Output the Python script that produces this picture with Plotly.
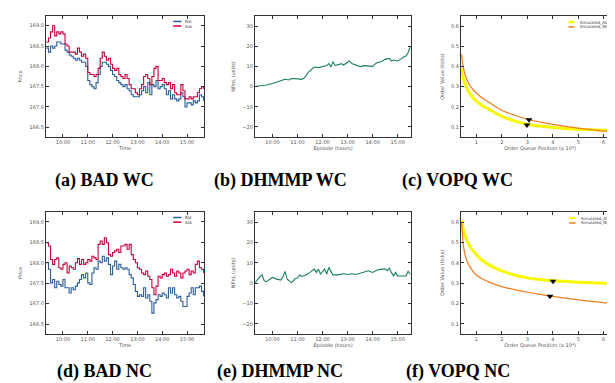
import plotly.graph_objects as go
import pandas as pd

# ---------------- data ----------------
BAD_TIMES = pd.date_range("2017-01-02 09:20", "2017-01-02 15:40", freq="5min")

WC_ASK = [168.6, 168.7, 168.85, 169.0, 168.75, 168.85, 168.8, 168.85, 168.8, 168.55,
          168.5, 168.35, 168.35, 168.35, 168.3, 168.45, 168.35, 168.25, 168.3, 168.2,
          167.85, 167.8, 167.8, 167.75, 167.8, 167.95, 168.2, 168.35, 168.25, 168.15,
          168.2, 168.05, 167.95, 167.9, 167.95, 167.8, 167.75, 167.7, 167.8, 167.7,
          167.55, 167.45, 167.45, 167.35, 167.3, 167.45, 167.55, 167.75, 167.8, 167.7,
          167.55, 167.75, 167.95, 168.0, 167.65, 167.65, 167.7, 167.6, 167.55, 167.6,
          167.45, 167.55, 167.35, 167.3, 167.3, 167.55, 167.4, 167.2, 167.2, 167.25,
          167.2, 167.25, 167.25, 167.35, 167.45, 167.5, 167.45]
WC_BID = [168.45, 168.35, 168.5, 168.45, 168.5, 168.6, 168.6, 168.55, 168.55, 168.4,
          168.35, 168.28, 168.25, 168.2, 168.15, 168.2, 168.15, 168.1, 168.1, 168.0,
          167.65, 167.55, 167.5, 167.45, 167.6, 167.8, 168.0, 168.1, 168.1, 168.05,
          168.0, 167.9, 167.8, 167.75, 167.65, 167.6, 167.55, 167.5, 167.55, 167.45,
          167.4, 167.3, 167.25, 167.25, 167.25, 167.3, 167.4, 167.5, 167.35, 167.6,
          167.3, 167.55, 167.5, 167.65, 167.45, 167.5, 167.55, 167.45, 167.3, 167.4,
          167.2, 167.3, 167.2, 167.15, 167.2, 167.35, 167.25, 167.0, 167.1, 167.1,
          167.05, 167.15, 167.1, 167.15, 167.3, 167.25, 167.15]
NC_ASK = [168.49, 168.41, 168.08, 167.96, 168.08, 168.12, 167.88, 167.84, 167.96, 168.0,
          167.75, 167.92, 167.88, 167.84, 168.0, 168.1, 167.96, 168.08, 167.96, 168.0,
          168.08, 168.04, 168.16, 168.12, 168.08, 168.45, 168.53, 168.45, 168.61, 168.49,
          168.2, 168.16, 168.25, 168.29, 168.33, 168.25, 168.41, 168.41, 168.45, 168.33,
          168.45, 168.2, 168.08, 168.0, 167.88, 167.84, 167.75, 167.71, 167.8, 167.67,
          167.59, 167.39, 167.22, 167.43, 167.67, 167.63, 167.71, 167.75, 167.67, 167.71,
          167.84, 167.75, 167.67, 167.8, 167.75, 167.63, 167.75, 167.8, 167.84, 167.71,
          167.8, 167.75, 167.96, 168.04, 167.88, 167.84, 167.75]
NC_BID = [168.0, 167.84, 167.51, 167.59, 167.39, 167.55, 167.47, 167.43, 167.59, 167.39,
          167.39, 167.26, 167.39, 167.34, 167.43, 167.51, 167.59, 167.71, 167.63, 167.75,
          167.51, 167.47, 167.75, 167.88, 167.84, 168.04, 168.0, 168.16, 168.04, 168.12,
          167.96, 167.71, 167.92, 168.04, 167.84, 167.96, 167.88, 167.84, 167.88, 167.84,
          167.71, 167.63, 167.47, 167.3, 167.18, 167.22, 167.18, 167.39, 167.14, 167.22,
          167.06, 166.77, 167.02, 167.1, 167.22, 167.18, 167.26, 167.22, 167.14, 167.39,
          167.26, 167.39, 167.22, 167.14, 167.18, 167.06, 166.93, 166.93, 167.18, 167.26,
          167.39, 167.22, 167.39, 167.39, 167.43, 167.3, 167.18]

NPNL_WC_TIMES = ["09:18", "09:30", "09:45", "10:00", "10:15", "10:30", "10:40", "10:45", "11:00",
                 "11:10", "11:15", "11:20", "11:25", "11:30", "11:35", "11:40", "11:50", "12:00",
                 "12:10", "12:15", "12:20", "12:25", "12:30", "12:40", "12:45", "12:50", "13:00",
                 "13:05", "13:10", "13:20", "13:30", "13:40", "13:50", "14:00", "14:05", "14:10",
                 "14:20", "14:30", "14:40", "14:45", "14:50", "15:00", "15:10", "15:15", "15:20",
                 "15:25", "15:30"]
NPNL_WC = [0, 0.3, 0.8, 1.5, 2.5, 3.6, 3.3, 4.0, 3.8, 3.6, 4.1, 5.2, 6.9, 7.7, 8.5, 9.7, 9.4,
           10.0, 10.4, 11.4, 9.7, 12.3, 10.5, 11.0, 11.4, 10.7, 11.8, 12.7, 11.4, 10.7, 9.9,
           10.4, 10.2, 10.0, 11.0, 11.8, 12.3, 13.5, 14.0, 12.7, 13.2, 12.7, 14.0, 14.8, 15.1,
           16.8, 19.6]
NPNL_NC_TIMES = ["09:18", "09:25", "09:30", "09:35", "09:40", "09:45", "09:55", "10:00", "10:10",
                 "10:20", "10:25", "10:30", "10:35", "10:45", "10:50", "10:55", "11:00", "11:05",
                 "11:10", "11:20", "11:30", "11:40", "11:45", "11:50", "11:55", "12:00", "12:05",
                 "12:10", "12:15", "12:20", "12:25", "12:35", "12:50", "13:00", "13:10", "13:20",
                 "13:30", "13:40", "13:50", "14:00", "14:10", "14:20", "14:30", "14:35", "14:40",
                 "14:45", "14:50", "14:55", "15:00", "15:10", "15:20", "15:25", "15:30"]
NPNL_NC = [0.3, 2.3, 3.1, 4.1, 1.2, 0.7, 2.0, 2.8, 2.0, 1.5, 3.1, 5.8, 2.0, 0.3, 1.2, 2.3, 2.5,
           4.0, 3.3, 4.0, 5.3, 6.9, 5.3, 6.9, 4.5, 5.8, 6.9, 4.5, 7.8, 5.8, 4.1, 4.1, 4.6, 4.3,
           4.6, 4.3, 4.8, 5.3, 6.1, 5.3, 6.4, 6.9, 6.9, 6.1, 7.4, 5.3, 3.6, 5.3, 3.6, 3.5, 3.6,
           5.8, 4.5]

QUEUE_POS = [0.42, 0.5, 0.6, 0.75, 1.0, 1.25, 1.5, 2.0, 2.5, 3.0, 3.5, 4.0, 5.0, 6.0, 6.6]
WC_SIM_AV = [0.39, 0.34, 0.30, 0.265, 0.228, 0.205, 0.187, 0.152, 0.13, 0.113, 0.104, 0.097,
             0.088, 0.084, 0.082]
WC_SIM_WC = [0.46, 0.39, 0.345, 0.305, 0.268, 0.242, 0.222, 0.183, 0.158, 0.138, 0.125, 0.113,
             0.094, 0.08, 0.072]
NC_SIM_AV = [0.61, 0.56, 0.52, 0.48, 0.44, 0.41, 0.39, 0.36, 0.34, 0.326, 0.318, 0.312, 0.305,
             0.30, 0.297]
NC_SIM_NC = [0.60, 0.48, 0.42, 0.38, 0.34, 0.32, 0.305, 0.283, 0.268, 0.256, 0.245, 0.235,
             0.218, 0.204, 0.196]
WC_MARK_X = [2.99, 3.07]
WC_MARK_Y = [0.11, 0.135]
NC_MARK_X = [4.01, 3.89]
NC_MARK_Y = [0.31, 0.236]

DAY = "2017-01-02 "
def tt(lst):
    return [pd.Timestamp(DAY + s) for s in lst]

# ---------------- styling ----------------
BLUE = "#2b5d9b"
RED = "#c8003c"
GREEN = "#1a7f5e"
YELLOW = "#f8f800"
ORANGE = "#f07d1e"
TICKF = dict(family="DejaVu Sans", size=5, color="#555")
TITLEF = dict(family="DejaVu Sans", size=5, color="#555")

fig = go.Figure()

XD = [(38/615, 196/615), (247/615, 403/615), (453/615, 611/615)]
YD = [(1-129/383, 1-8/383), (1-326/383, 1-204/383)]

def axis_common():
    return dict(showline=True, mirror="ticks", linecolor="#333", linewidth=1.3,
                ticks="inside", ticklen=3, tickcolor="#333", tickwidth=0.8,
                showgrid=False, zeroline=False, tickfont=TICKF)

panels = []
idx = 0
for r in range(2):
    for c in range(3):
        idx += 1
        sfx = "" if idx == 1 else str(idx)
        panels.append(("x" + sfx, "y" + sfx, "xaxis" + sfx, "yaxis" + sfx, XD[c], YD[r]))

lay = {}
for i, (xn, yn, xa, ya, xd, yd) in enumerate(panels):
    lay[xa] = dict(domain=xd, anchor=yn, **axis_common())
    lay[ya] = dict(domain=yd, anchor=xn, **axis_common())

t_lo_bad, t_hi_bad = pd.Timestamp(DAY + "09:19"), pd.Timestamp(DAY + "15:41")
t_lo_np, t_hi_np = pd.Timestamp(DAY + "09:18"), pd.Timestamp(DAY + "15:32")
for k in (0, 3):
    xa, ya = panels[k][2], panels[k][3]
    lay[xa].update(type="date", range=[t_lo_bad, t_hi_bad], tickformat="%H:%M",
                   dtick=3600000, tick0=DAY + "10:00",
                   title=dict(text="Time", font=TITLEF, standoff=2))
    lay[ya].update(range=[166.26, 169.24], dtick=0.5, tick0=166.5, tickformat=".1f",
                   title=dict(text="Price", font=TITLEF, standoff=6))
for k in (1, 4):
    xa, ya = panels[k][2], panels[k][3]
    lay[xa].update(type="date", range=[t_lo_np, t_hi_np], tickformat="%H:%M",
                   dtick=3600000, tick0=DAY + "10:00",
                   title=dict(text="Episode (hours)", font=TITLEF, standoff=2))
    lay[ya].update(range=[-25, 35], dtick=10, tick0=0,
                   title=dict(text="NPnL (units)", font=TITLEF, standoff=6))
for k in (2, 5):
    xa, ya = panels[k][2], panels[k][3]
    lay[xa].update(range=[0.4, 6.6], dtick=1, tick0=1,
                   title=dict(text="Order Queue Position (x 10⁴)", font=TITLEF, standoff=2))
    lay[ya].update(range=[0.05, 0.65], dtick=0.1, tick0=0.1, tickformat=".1f",
                   title=dict(text="Order Value (ticks)", font=TITLEF, standoff=6))

def add(k, x, y, color, width, shape="linear"):
    fig.add_trace(go.Scatter(x=x, y=y, mode="lines", xaxis=panels[k][0], yaxis=panels[k][1],
                             line=dict(color=color, width=width, shape=shape),
                             showlegend=False))

add(0, BAD_TIMES, WC_BID, BLUE, 1.1, "hv")
add(0, BAD_TIMES, WC_ASK, RED, 1.1, "hv")
add(3, BAD_TIMES, NC_BID, BLUE, 1.1, "hv")
add(3, BAD_TIMES, NC_ASK, RED, 1.1, "hv")
add(1, tt(NPNL_WC_TIMES), NPNL_WC, GREEN, 1.1)
add(4, tt(NPNL_NC_TIMES), NPNL_NC, GREEN, 1.1)
add(2, QUEUE_POS, WC_SIM_AV, YELLOW, 3, "spline")
add(2, QUEUE_POS, WC_SIM_WC, ORANGE, 1.2, "spline")
add(5, QUEUE_POS, NC_SIM_AV, YELLOW, 3, "spline")
add(5, QUEUE_POS, NC_SIM_NC, ORANGE, 1.2, "spline")
for k, mx, my in ((2, WC_MARK_X, WC_MARK_Y), (5, NC_MARK_X, NC_MARK_Y)):
    fig.add_trace(go.Scatter(x=mx, y=my, mode="markers", xaxis=panels[k][0], yaxis=panels[k][1],
                             marker=dict(symbol="triangle-down", color="black", size=6),
                             showlegend=False))

# custom small legends
shapes, annos = [], []
def legend(k, items, x0, x1, xt, ys):
    xn, yn = panels[k][0], panels[k][1]
    for (lab, col, w), yy in zip(items, ys):
        shapes.append(dict(type="line", xref=xn + " domain", yref=yn + " domain",
                           x0=x0, x1=x1, y0=yy, y1=yy, line=dict(color=col, width=w)))
        annos.append(dict(text=lab, xref=xn + " domain", yref=yn + " domain", x=xt, y=yy,
                          xanchor="left", yanchor="middle", showarrow=False,
                          font=dict(family="DejaVu Sans", size=4, color="#444")))

legend(0, [("Bid", BLUE, 1.5), ("Ask", RED, 1.5)], 0.805, 0.857, 0.867, [0.955, 0.917])
legend(3, [("Bid", BLUE, 1.5), ("Ask", RED, 1.5)], 0.805, 0.857, 0.867, [0.955, 0.917])
legend(2, [("Simulated_AV", YELLOW, 2.5), ("Simulated_WC", ORANGE, 1.5)], 0.680, 0.718, 0.74, [0.95, 0.91])
legend(5, [("Simulated_AV", YELLOW, 2), ("Simulated_NC", ORANGE, 1.5)], 0.685, 0.725, 0.745, [0.95, 0.91])

captions = [("(a) BAD WC", 96, 172), ("(b) DHMMP WC", 272, 172), ("(c) VOPQ WC", 449, 172),
            ("(d) BAD NC", 96, 363), ("(e) DHMMP NC", 272, 363), ("(f) VOPQ NC", 450, 363)]
for txt, px, py in captions:
    annos.append(dict(text="<b>" + txt + "</b>", xref="paper", yref="paper",
                      x=px / 615, y=1 - py / 383, xanchor="center", yanchor="middle",
                      showarrow=False,
                      font=dict(family="Liberation Serif", size=18, color="black")))

fig.update_layout(width=615, height=383, margin=dict(l=0, r=0, t=0, b=0),
                  paper_bgcolor="white", plot_bgcolor="white",
                  shapes=shapes, annotations=annos, **lay)

fig.write_html("out.html")
